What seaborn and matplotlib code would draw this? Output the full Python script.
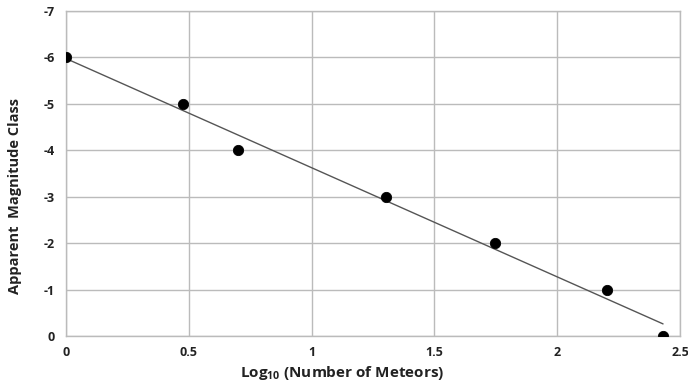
import numpy as np
import pandas as pd
import matplotlib
matplotlib.use("Agg")
import matplotlib.pyplot as plt
import seaborn as sns

log_meteors = [0.0, 0.477, 0.699, 1.301, 1.748, 2.204, 2.431]
magnitude = [-6, -5, -4, -3, -2, -1, 0]
x_ticks = [0, 0.5, 1, 1.5, 2, 2.5]
x_tick_labels = ["0", "0.5", "1", "1.5", "2", "2.5"]
y_ticks = [0, -1, -2, -3, -4, -5, -6, -7]

sns.set_theme(style="white")
plt.rcParams['font.family'] = ['Open Sans', 'DejaVu Sans']
plt.rcParams['mathtext.fontset'] = 'custom'
plt.rcParams['mathtext.bf'] = 'Open Sans:bold'
plt.rcParams['mathtext.rm'] = 'Open Sans'

df = pd.DataFrame({"x": log_meteors, "y": magnitude})
slope, intercept = np.polyfit(df["x"], df["y"], 1)
fit = pd.DataFrame({"x": [min(log_meteors), max(log_meteors)]})
fit["y"] = slope * fit["x"] + intercept

fig = plt.figure(figsize=(6.88, 3.83), dpi=100)
ax = fig.add_axes([66/688, 1-336/383, (680-66)/688, (336-11)/383])

sns.lineplot(data=fit, x="x", y="y", ax=ax, color="#555555", linewidth=1.0)
sns.scatterplot(data=df, x="x", y="y", ax=ax, color="black", s=55, edgecolor="black", zorder=5)

ax.set_xlim(0, 2.5)
ax.set_ylim(0, -7)
ax.set_xticks(x_ticks)
ax.set_xticklabels(x_tick_labels)
ax.set_yticks(y_ticks)
ax.set_yticklabels([str(v) for v in y_ticks])
ax.grid(True, color="#bbbbbb", linewidth=1.0)
ax.set_axisbelow(True)
for s in ax.spines.values():
    s.set_color("#bbbbbb")
    s.set_linewidth(1.0)
ax.tick_params(axis="x", length=0, labelsize=9, pad=7)
ax.tick_params(axis="y", length=0, labelsize=9, pad=8)
for lab in ax.get_xticklabels() + ax.get_yticklabels():
    lab.set_fontweight("bold")
    lab.set_color("#222222")

ax.set_xlabel("Log$_{\\mathbf{10}}$ (Number of Meteors)", fontsize=11, fontweight="bold", color="#222222")
ax.set_ylabel("Apparent  Magnitude Class", fontsize=10.5, fontweight="bold", color="#222222")
ax.xaxis.set_label_coords(0.45, -0.085)
ax.yaxis.set_label_coords(-0.072, 0.43)

fig.savefig("out.png", dpi=100, facecolor="white")
